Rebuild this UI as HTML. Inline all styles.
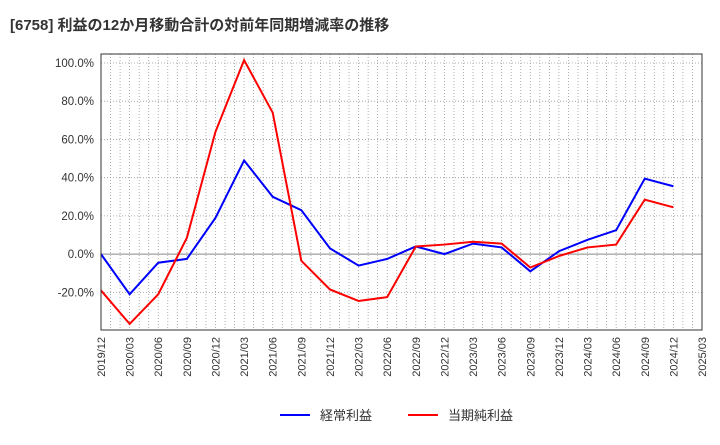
<!DOCTYPE html>
<html><head><meta charset="utf-8"><style>
body{margin:0;background:#fff;font-family:"Liberation Sans","Noto Sans CJK JP",sans-serif}
</style></head><body>
<svg width="720" height="440" xmlns="http://www.w3.org/2000/svg" id="chart">
<text x="10" y="30" font-size="15" font-weight="bold" fill="#333" font-family="Liberation Sans, Noto Sans CJK JP, sans-serif">[6758]  利益の12か月移動合計の対前年同期増減率の推移</text>
<g id="grid"></g>
<g id="yaxis"></g>
<g id="xaxis"></g>
<g id="series"></g>
<rect x="101" y="54" width="601" height="276" fill="none" stroke="#333" stroke-width="1"/>
<g>
<line x1="280" y1="415" x2="310" y2="415" stroke="#0000ff" stroke-width="2"/>
<text x="320" y="420" font-size="13" fill="#333">経常利益</text>
<line x1="408" y1="415" x2="438" y2="415" stroke="#ff0000" stroke-width="2"/>
<text x="448" y="420" font-size="13" fill="#333">当期純利益</text>
</g>
</svg>
<script>
const categories=["2019/12","2020/03","2020/06","2020/09","2020/12","2021/03","2021/06","2021/09","2021/12","2022/03","2022/06","2022/09","2022/12","2023/03","2023/06","2023/09","2023/12","2024/03","2024/06","2024/09","2024/12","2025/03"];
const ordinaryProfit=[0,-21,-4.5,-2.5,19,49,30,23,3,-6,-2.5,4,0,5.5,3.5,-9,1.5,7.5,12.5,39.5,35.5];
const netProfit=[-19,-36.5,-21,8.5,64,101.5,74,-3.5,-18.5,-24.5,-22.5,4,5,6.5,5.5,-7,-1,3.5,5,28.5,24.5];
const yTicks=[-20,0,20,40,60,80,100];
const NS="http://www.w3.org/2000/svg";
const L=101,R=702,T=54,B=330,yMin=-39.7,yMax=104.7;
function xPos(i){return L+(R-L)*i/(categories.length-1);}
function yPos(v){return B-(v-yMin)/(yMax-yMin)*(B-T);}
function mk(tag,attrs,parent){const e=document.createElementNS(NS,tag);for(const k in attrs)e.setAttribute(k,attrs[k]);parent.appendChild(e);return e;}
const grid=document.getElementById('grid'),ya=document.getElementById('yaxis'),xa=document.getElementById('xaxis'),ser=document.getElementById('series');
for(let m=1;m<(categories.length-1)*3;m++){
 const x=L+(R-L)*m/((categories.length-1)*3);
 const g=mk('line',{x1:x,x2:x,y1:T,y2:B,stroke:'#999','stroke-dasharray':'1,2','stroke-width':0.8},grid);
 
 
}
yTicks.forEach(v=>{
 const y=yPos(v);
 const g=mk('line',{x1:L,x2:R,y1:y,y2:y,stroke:v===0?'#888':'#999','stroke-dasharray':v===0?'none':'1,2','stroke-width':v===0?1:0.8},grid);
 
 
 const t=mk('text',{x:L-7,y:y+4,'text-anchor':'end','font-size':11.5,fill:'#333'},ya);
 
 
 t.textContent=v.toFixed(1)+'%';
});
categories.forEach((c,i)=>{
 const x=xPos(i);
 const t=mk('text',{x:x+4,y:337,'text-anchor':'end','font-size':11,fill:'#333',transform:`rotate(-90 ${x+4} 337)`},xa);
 
 
 t.textContent=c;
});
function line(data,color,name){
 const p=mk('polyline',{points:data.map((v,i)=>xPos(i)+','+yPos(v)).join(' '),fill:'none',stroke:color,'stroke-width':2},ser);
 
 
}
line(ordinaryProfit,'#0000ff','ordinary-profit-line');
line(netProfit,'#ff0000','net-profit-line');
</script>
</body></html>
